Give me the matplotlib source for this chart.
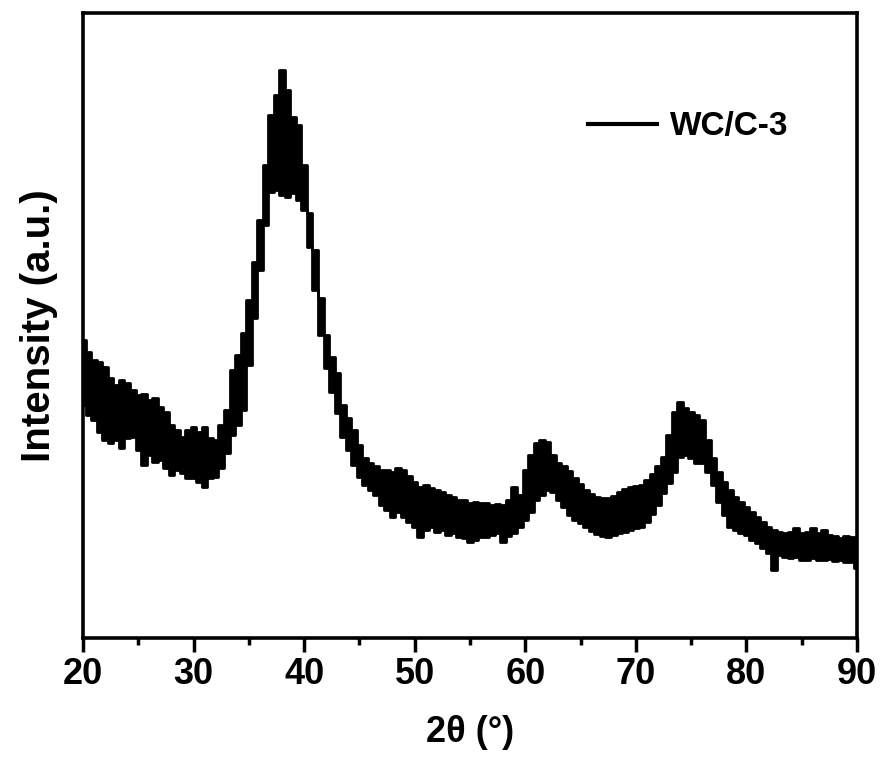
import numpy as np
import matplotlib
matplotlib.use("Agg")
import matplotlib.pyplot as plt
from matplotlib.lines import Line2D

plt.rcParams['font.family'] = ['Liberation Sans', 'DejaVu Sans']
plt.rcParams['font.weight'] = 'bold'

# 2theta grid (deg) and the upper / lower edge of the noisy trace (a.u.)
two_theta = np.arange(20, 90.01, 0.5)

upper = [298, 286, 278, 276, 271, 260, 253, 258, 255, 248,
         243, 244, 238, 240, 231, 226, 213, 208, 201, 208,
         211, 206, 211, 200, 198, 213, 228, 268, 283, 305,
         338, 376, 418, 473, 523, 543, 568, 548, 521, 513,
         473, 425, 388, 340, 303, 281, 265, 233, 220, 208,
         193, 180, 175, 172, 168, 168, 166, 170, 168, 162,
         156, 151, 153, 150, 148, 146, 143, 141, 138, 138,
         135, 136, 135, 135, 133, 134, 133, 138, 151, 143,
         168, 183, 195, 198, 196, 183, 175, 172, 167, 160,
         154, 148, 144, 141, 140, 140, 142, 146, 149, 151,
         152, 153, 158, 164, 172, 181, 203, 226, 236, 230,
         226, 223, 218, 198, 180, 166, 156, 148, 141, 136,
         131, 126, 121, 116, 111, 108, 106, 105, 106, 110,
         105, 106, 110, 105, 108, 103, 102, 100, 102, 101,
         101]

lower = [233, 223, 218, 206, 198, 195, 198, 190, 200, 201,
         188, 173, 183, 176, 178, 170, 163, 168, 165, 160,
         160, 156, 151, 160, 161, 170, 185, 203, 213, 228,
         273, 320, 368, 413, 446, 448, 443, 441, 445, 438,
         428, 391, 348, 303, 270, 246, 225, 201, 188, 173,
         161, 153, 148, 143, 133, 128, 121, 126, 121, 116,
         111, 101, 108, 111, 106, 108, 103, 105, 101, 100,
         96, 98, 101, 101, 103, 105, 96, 102, 105, 111,
         118, 126, 138, 143, 148, 146, 138, 131, 123, 118,
         115, 111, 107, 104, 102, 101, 103, 105, 106, 108,
         110, 111, 116, 124, 133, 145, 155, 166, 181, 183,
         180, 175, 175, 166, 153, 136, 123, 111, 108, 105,
         103, 98, 95, 90, 85, 68, 83, 81, 80, 81,
         78, 78, 80, 78, 78, 79, 77, 78, 76, 76,
         70]

fig = plt.figure(figsize=(8.84, 7.58), dpi=100)
ax = fig.add_axes([0.0939, 0.1583, 0.8756, 0.8245])

ax.fill_between(two_theta, lower, upper, step='mid', color='black', linewidth=0)
ax.step(two_theta, upper, where='mid', color='black', linewidth=2)
ax.step(two_theta, lower, where='mid', color='black', linewidth=2)

ax.set_xlim(20, 90)
ax.set_ylim(0, 625)
ax.set_xticks(np.arange(20, 91, 10))
ax.set_xticks(np.arange(25, 90, 10), minor=True)
ax.set_yticks([])
ax.tick_params(axis='x', which='major', direction='out', length=10, width=2.5,
               labelsize=26, pad=4)
ax.tick_params(axis='x', which='minor', direction='out', length=5, width=2.5)
for lab in ax.get_xticklabels():
    lab.set_fontweight('bold')
for s in ax.spines.values():
    s.set_linewidth(2.6)

ax.set_xlabel('2θ (°)', fontsize=26, fontweight='bold', labelpad=16)
ax.set_ylabel('Intensity (a.u.)', fontsize=29, fontweight='bold', labelpad=18)

handle = Line2D([], [], color='black', linewidth=3)
ax.legend([handle], ['WC/C-3'], loc='center left', bbox_to_anchor=(0.652, 0.818),
          frameon=False, handlelength=2.07, handletextpad=0.4, borderpad=0,
          borderaxespad=0, prop={'size': 24, 'weight': 'bold'})

fig.savefig('out.png', dpi=100)
